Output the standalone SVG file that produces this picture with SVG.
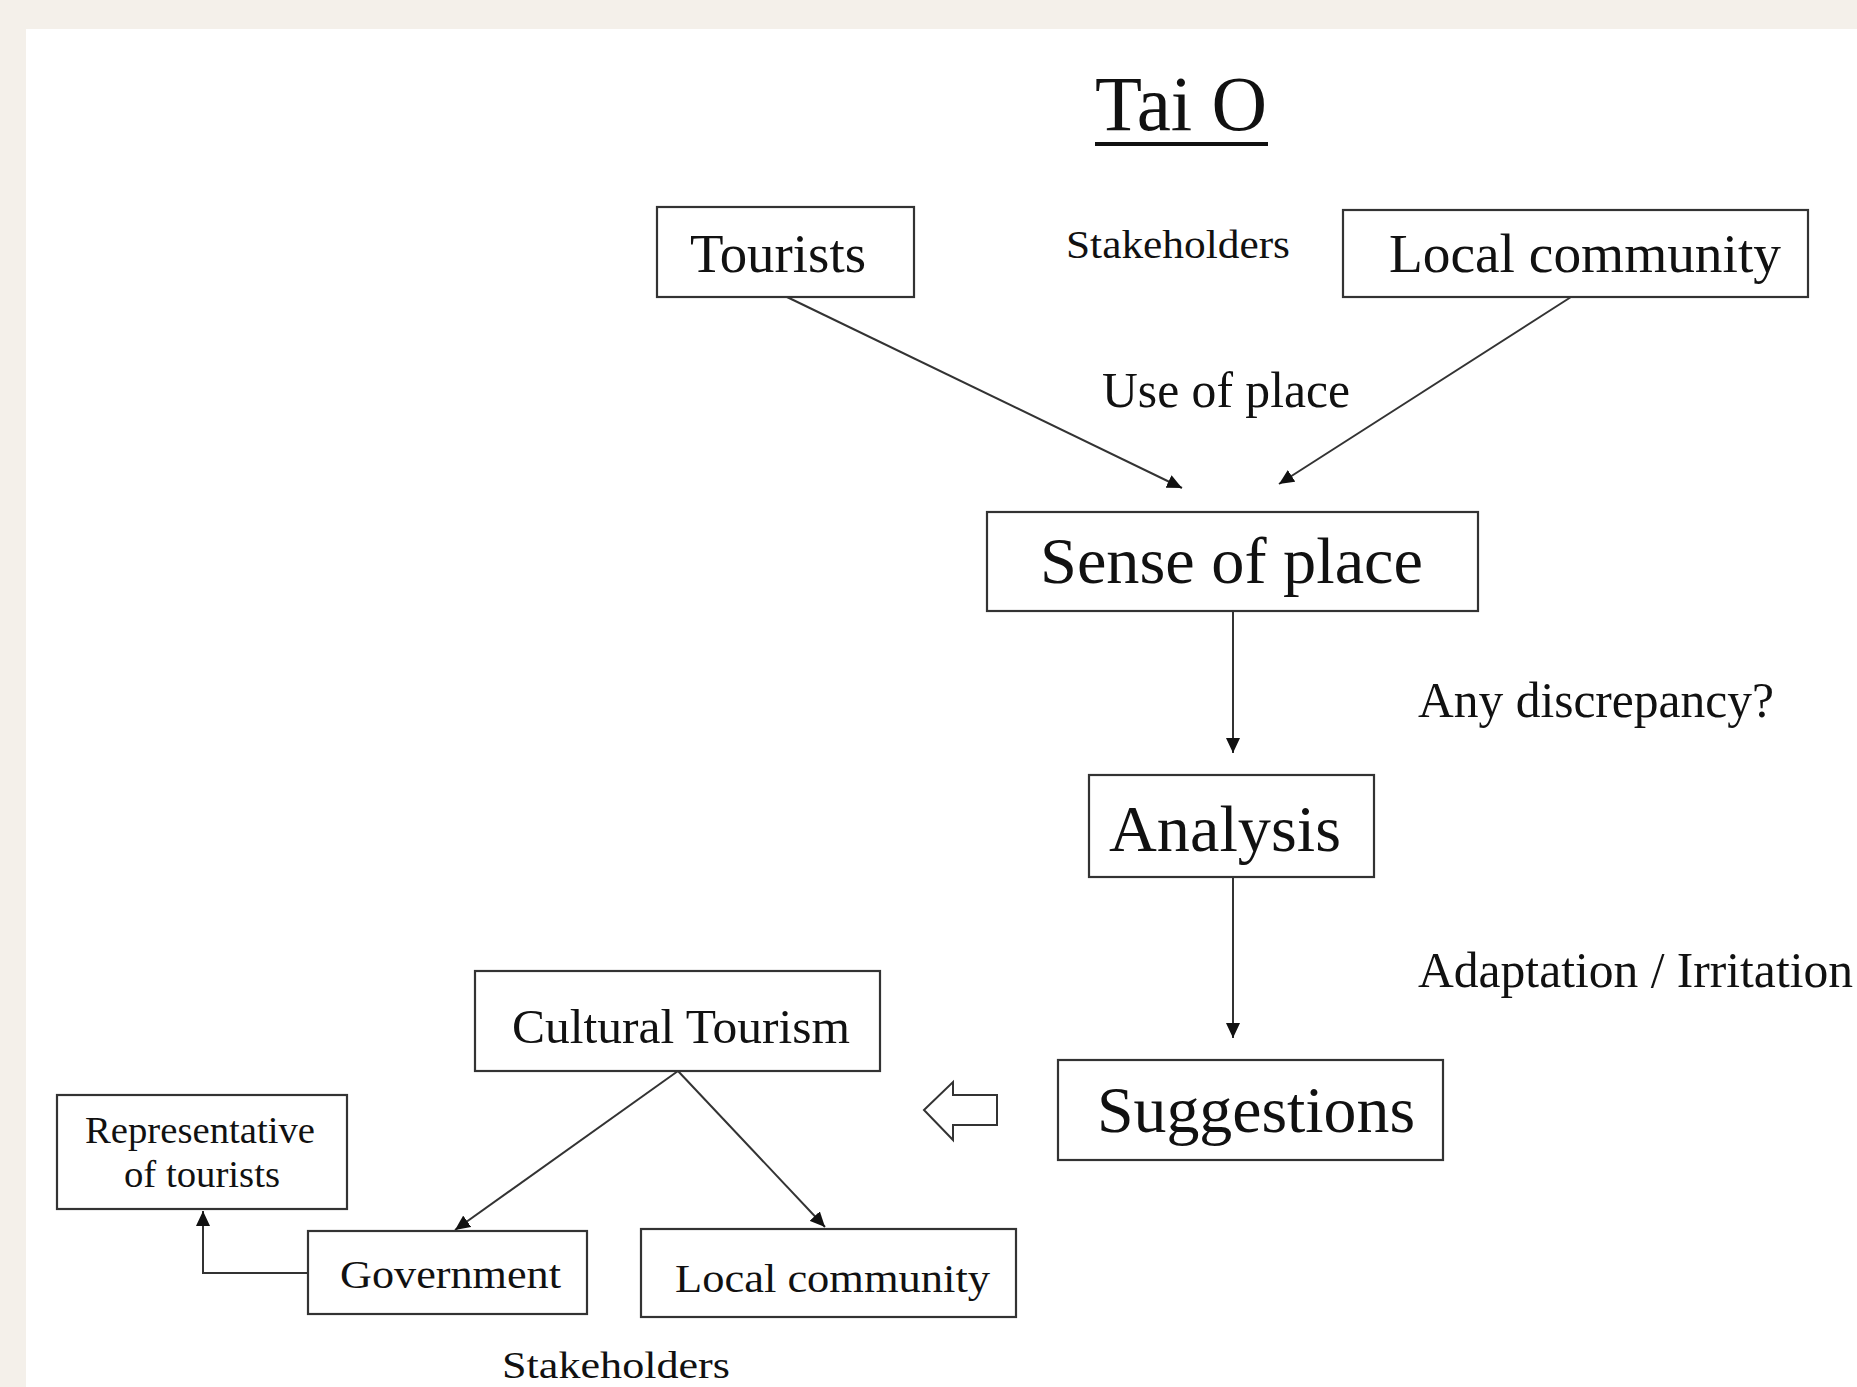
<svg xmlns="http://www.w3.org/2000/svg" width="1857" height="1387" viewBox="0 0 1857 1387">
  <style>
    .box { fill: #ffffff; stroke: #333333; stroke-width: 2.2; }
    .t { font-family: "Liberation Serif", "Times New Roman", serif; fill: #111111; }
    .conn { fill: none; stroke: #333333; stroke-width: 2; }
  </style>
  <defs>
    <marker id="ah" markerUnits="userSpaceOnUse" markerWidth="16" markerHeight="14" viewBox="0 0 16 14" refX="15" refY="7" orient="auto">
      <path d="M0,0 L15,7 L0,14 Z" fill="#111111"/>
    </marker>
  </defs>
  <rect x="0" y="0" width="1857" height="1387" fill="#f4f0ea"/>
  <rect x="26" y="29" width="1831" height="1358" fill="#ffffff"/>

  <g id="title">
    <text class="t" x="1095" y="130" font-size="78" textLength="172" lengthAdjust="spacingAndGlyphs">Tai O</text>
    <rect x="1095" y="142" width="173" height="4" fill="#111111"/>
  </g>

  <g id="connectors">
    <line class="conn" x1="787" y1="297" x2="1182" y2="488" marker-end="url(#ah)"/>
    <line class="conn" x1="1571" y1="297" x2="1279" y2="484" marker-end="url(#ah)"/>
    <line class="conn" x1="1233" y1="611" x2="1233" y2="753" marker-end="url(#ah)"/>
    <line class="conn" x1="1233" y1="877" x2="1233" y2="1038" marker-end="url(#ah)"/>
    <line class="conn" x1="678" y1="1071" x2="455" y2="1230" marker-end="url(#ah)"/>
    <line class="conn" x1="678" y1="1071" x2="825" y2="1227" marker-end="url(#ah)"/>
    <polyline class="conn" points="308,1273 203,1273 203,1211" marker-end="url(#ah)"/>
    <polygon points="924,1110 953,1082 953,1095 997,1095 997,1125 953,1125 953,1140" fill="#ffffff" stroke="#333333" stroke-width="2"/>
  </g>

  <g id="tourists">
    <rect class="box" x="657" y="207" width="257" height="90"/>
    <text class="t" x="690" y="272" font-size="55" textLength="176" lengthAdjust="spacingAndGlyphs">Tourists</text>
  </g>
  <g id="stakeholders-top">
    <text class="t" x="1066" y="258" font-size="40" textLength="224" lengthAdjust="spacingAndGlyphs">Stakeholders</text>
  </g>
  <g id="local-community-top">
    <rect class="box" x="1343" y="210" width="465" height="87"/>
    <text class="t" x="1389" y="272" font-size="55" textLength="392" lengthAdjust="spacingAndGlyphs">Local community</text>
  </g>
  <g id="use-of-place">
    <text class="t" x="1102" y="407" font-size="50" textLength="248" lengthAdjust="spacingAndGlyphs">Use of place</text>
  </g>
  <g id="sense-of-place">
    <rect class="box" x="987" y="512" width="491" height="99"/>
    <text class="t" x="1040" y="583" font-size="66" textLength="383" lengthAdjust="spacingAndGlyphs">Sense of place</text>
  </g>
  <g id="any-discrepancy">
    <text class="t" x="1418" y="717" font-size="50" textLength="356" lengthAdjust="spacingAndGlyphs">Any discrepancy?</text>
  </g>
  <g id="analysis">
    <rect class="box" x="1089" y="775" width="285" height="102"/>
    <text class="t" x="1109" y="851" font-size="66" textLength="232" lengthAdjust="spacingAndGlyphs">Analysis</text>
  </g>
  <g id="adaptation">
    <text class="t" x="1418" y="987" font-size="50" textLength="435" lengthAdjust="spacingAndGlyphs">Adaptation / Irritation</text>
  </g>
  <g id="suggestions">
    <rect class="box" x="1058" y="1060" width="385" height="100"/>
    <text class="t" x="1097" y="1132" font-size="66" textLength="318" lengthAdjust="spacingAndGlyphs">Suggestions</text>
  </g>
  <g id="cultural-tourism">
    <rect class="box" x="475" y="971" width="405" height="100"/>
    <text class="t" x="512" y="1043" font-size="48" textLength="338" lengthAdjust="spacingAndGlyphs">Cultural Tourism</text>
  </g>
  <g id="representative">
    <rect class="box" x="57" y="1095" width="290" height="114"/>
    <text class="t" x="85" y="1143" font-size="38" textLength="230" lengthAdjust="spacingAndGlyphs">Representative</text>
    <text class="t" x="124" y="1187" font-size="38" textLength="156" lengthAdjust="spacingAndGlyphs">of tourists</text>
  </g>
  <g id="government">
    <rect class="box" x="308" y="1231" width="279" height="83"/>
    <text class="t" x="340" y="1288" font-size="41" textLength="221" lengthAdjust="spacingAndGlyphs">Government</text>
  </g>
  <g id="local-community-bottom">
    <rect class="box" x="641" y="1229" width="375" height="88"/>
    <text class="t" x="675" y="1292" font-size="41" textLength="315" lengthAdjust="spacingAndGlyphs">Local community</text>
  </g>
  <g id="stakeholders-bottom">
    <text class="t" x="502" y="1378" font-size="38" textLength="228" lengthAdjust="spacingAndGlyphs">Stakeholders</text>
  </g>
</svg>
